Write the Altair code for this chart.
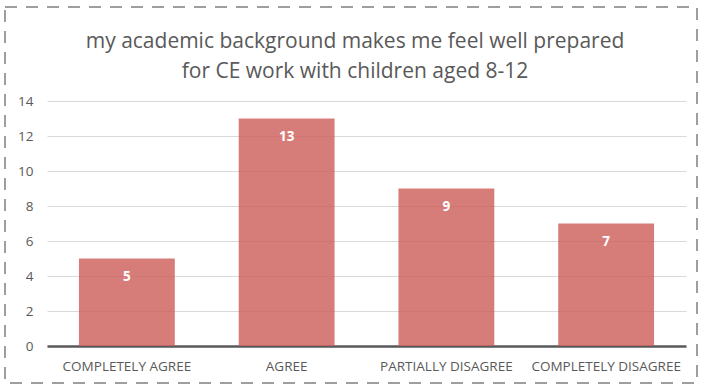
import altair as alt
import pandas as pd

categories = ["COMPLETELY AGREE", "AGREE", "PARTIALLY DISAGREE", "COMPLETELY DISAGREE"]
values = [5, 13, 9, 7]
title_lines = ["my academic background makes me feel well prepared",
               "for CE work with children aged 8-12"]

df = pd.DataFrame({"cat": categories, "val": values})

FONT = "Open Sans"
GRAY = "#595959"

x = alt.X("cat:N", sort=categories, title=None,
          scale=alt.Scale(paddingInner=0.4, paddingOuter=0.2),
          axis=alt.Axis(labelAngle=0, labelFontSize=13.5, labelColor=GRAY, labelFont=FONT,
                        ticks=False, domain=True, domainColor=GRAY, domainWidth=2.5,
                        labelPadding=13, grid=False))
y = alt.Y("val:Q", title=None,
          scale=alt.Scale(domain=[0, 14], nice=False),
          axis=alt.Axis(values=list(range(0, 15, 2)), labelFontSize=13.5, labelColor=GRAY,
                        labelFont=FONT, ticks=False, domain=False, labelPadding=14,
                        labelOverlap=False,
                        grid=True, gridColor="#d9d9d9", gridWidth=1))

base = alt.Chart(df)
bars = base.mark_bar(color="#CD5C57", opacity=0.8).encode(x=x, y=y)
labels = base.mark_text(color="white", fontWeight="bold", fontSize=13.5, font=FONT,
                        baseline="middle", dy=18).encode(x=x, y=y, text="val:Q")

title_df = pd.DataFrame({"t": ["\n".join(title_lines)]})
title = alt.Chart(title_df).mark_text(
    font=FONT, fontSize=21, color=GRAY, lineBreak="\n", lineHeight=30,
    align="center", baseline="middle", clip=False
).encode(x=alt.value(308), y=alt.value(-59), text="t:N")

border = alt.Chart(pd.DataFrame({"a": [0]})).mark_rect(
    fill=None, stroke="#7f7f7f", strokeWidth=1.5, strokeDash=[12, 9], clip=False
).encode(x=alt.value(-42), x2=alt.value(650), y=alt.value(-94), y2=alt.value(282))

chart = alt.layer(bars, labels, title, border).properties(
    width=639, height=245,
    padding={"left": 47, "top": 101, "right": 15, "bottom": 41},
    autosize=alt.AutoSizeParams(type="none"),
).configure_view(stroke=None)

chart.save("out.html", embed_options={"renderer": "svg", "actions": False})
